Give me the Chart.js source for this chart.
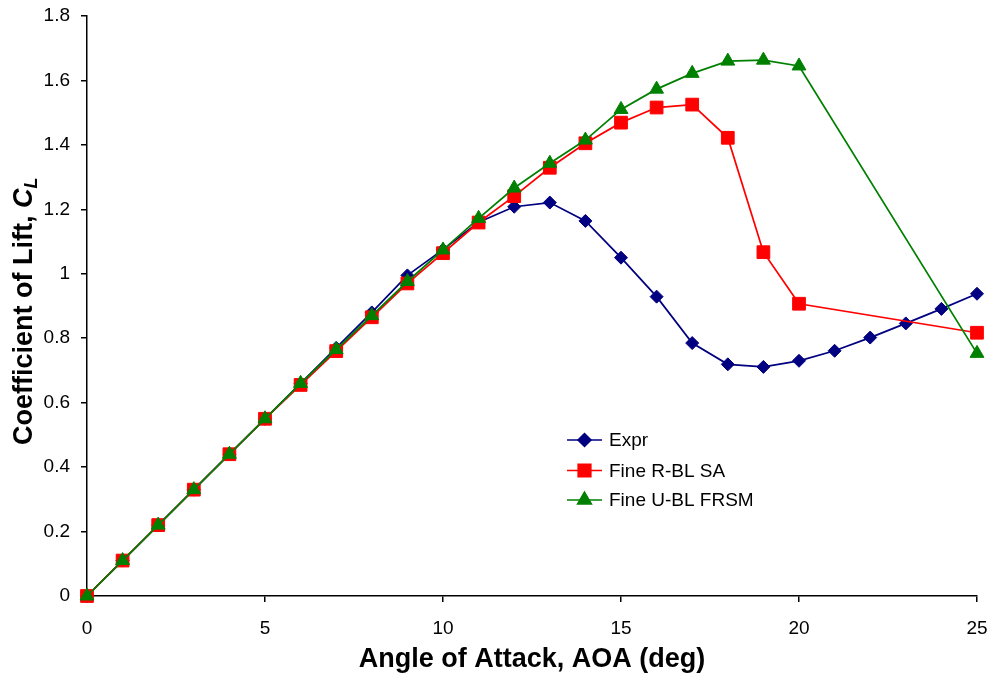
<!DOCTYPE html>
<html>
<head>
<meta charset="utf-8">
<script src="https://cdn.jsdelivr.net/npm/chart.js@4.4.0/dist/chart.umd.min.js"></script>
<style>
html,body{margin:0;padding:0;background:#fff;}
#wrap{width:993px;height:683px;position:relative;}
</style>
</head>
<body>
<div id="wrap"><canvas id="c" width="993" height="683"></canvas></div>
<script>
const aoa = [0,1,2,3,4,5,6,7,8,9,10,11,12,13,14,15,16,17,18,19,20,21,22,23,24,25];
const exprCL = [0,0.11,0.22,0.33,0.44,0.55,0.66,0.77,0.88,0.995,1.075,1.16,1.208,1.221,1.164,1.05,0.929,0.785,0.719,0.711,0.73,0.761,0.802,0.846,0.891,0.938];
const saAOA = [0,1,2,3,4,5,6,7,8,9,10,11,12,13,14,15,16,17,18,19,20,25];
const saCL = [0,0.11,0.22,0.33,0.44,0.55,0.655,0.76,0.865,0.97,1.064,1.159,1.241,1.329,1.405,1.469,1.516,1.525,1.422,1.067,0.907,0.817];
const frsmAOA = [0,1,2,3,4,5,6,7,8,9,10,11,12,13,14,15,16,17,18,19,20,25];
const frsmCL = [0,0.11,0.22,0.33,0.44,0.55,0.66,0.765,0.87,0.976,1.074,1.172,1.266,1.343,1.415,1.51,1.573,1.622,1.66,1.663,1.645,0.753];
const seriesNames = ['Expr','Fine R-BL SA','Fine U-BL FRSM'];
const yTicks = [0,0.2,0.4,0.6,0.8,1,1.2,1.4,1.6,1.8];
const xTicks = [0,5,10,15,20,25];

const colors = ['#000080','#FF0000','#008000'];
const styles = ['rectRot','rect','triangle'];
const radii = [6.5,9,8];
const FONT = '"Liberation Sans", Arial, sans-serif';

function pts(xs, ys){ return xs.map((x,i)=>({x:x,y:ys[i]})); }

const legendPlugin = {
  id:'customLegend',
  afterDraw(chart){
    const ctx = chart.ctx;
    ctx.save();
    const x0 = 567, x1 = 602, tx = 609;
    const ys = [440, 470.5, 500];
    seriesNames.forEach((name,i)=>{
      const y = ys[i];
      ctx.strokeStyle = colors[i];
      ctx.lineWidth = 1.5;
      ctx.beginPath(); ctx.moveTo(x0,y); ctx.lineTo(x1,y); ctx.stroke();
      ctx.fillStyle = colors[i];
      Chart.helpers.drawPoint(ctx, {pointStyle: styles[i], radius: radii[i], borderWidth: 1, rotation: 0}, (x0+x1)/2, y);
      ctx.fill();
      ctx.fillStyle = '#000';
      ctx.font = '19px ' + FONT;
      ctx.textBaseline = 'middle';
      ctx.textAlign = 'left';
      ctx.fillText(name, tx, y+1);
    });
    // y axis title
    ctx.translate(32, 445);
    ctx.rotate(-Math.PI/2);
    ctx.textBaseline = 'alphabetic';
    ctx.textAlign = 'left';
    ctx.fillStyle = '#000';
    ctx.font = 'bold 27px ' + FONT;
    const t1 = 'Coefficient of Lift, ';
    ctx.fillText(t1, 0, 0);
    let w = ctx.measureText(t1).width;
    ctx.font = 'italic bold 27px ' + FONT;
    ctx.fillText('C', w, 0);
    w += ctx.measureText('C').width;
    ctx.font = 'italic bold 18px ' + FONT;
    ctx.fillText('L', w, 5);
    ctx.restore();
  }
};

const datasets = [
  {label:seriesNames[0], data:pts(aoa, exprCL)},
  {label:seriesNames[1], data:pts(saAOA, saCL)},
  {label:seriesNames[2], data:pts(frsmAOA, frsmCL)}
].map((d,i)=>Object.assign(d,{
  borderColor:colors[i], backgroundColor:colors[i],
  pointBackgroundColor:colors[i], pointBorderColor:colors[i],
  pointStyle:styles[i], pointRadius:radii[i], pointHoverRadius:radii[i],
  pointBorderWidth:1, borderWidth:1.75, tension:0, fill:false,
  clip:false,
  order: 2-i
}));

new Chart(document.getElementById('c'), {
  type:'scatter',
  data:{datasets:datasets},
  options:{
    responsive:false, animation:false,
    showLine:true,
    layout:{padding:{left:0,right:16,top:16,bottom:0}},
    plugins:{legend:{display:false}, tooltip:{enabled:false}},
    scales:{
      x:{
        type:'linear', min:0, max:25,
        afterBuildTicks(s){ s.ticks = xTicks.map(v=>({value:v})); },
        afterFit(s){ s.height = 87; s.paddingLeft = 0; s.paddingRight = 0; },
        grid:{display:true, drawOnChartArea:false, drawTicks:true, tickLength:6, color:'#000', lineWidth:1.5},
        border:{display:true, color:'#000', width:1.5},
        ticks:{color:'#000', padding:15, maxRotation:0, font:{family:FONT, size:19}, callback:v=>String(v)},
        title:{display:true, text:'Angle of Attack, AOA (deg)', color:'#000', padding:{top:0,bottom:7}, font:{family:FONT, size:27, weight:'bold'}}
      },
      y:{
        type:'linear', min:0, max:1.8,
        afterBuildTicks(s){ s.ticks = yTicks.map(v=>({value:v})); },
        afterFit(s){ s.width = 87; s.paddingTop = 0; s.paddingBottom = 0; },
        grid:{display:true, drawOnChartArea:false, drawTicks:true, tickLength:6, color:'#000', lineWidth:1.5},
        border:{display:true, color:'#000', width:1.5},
        ticks:{color:'#000', padding:11, font:{family:FONT, size:19}, callback:v=>String(+(+v).toFixed(1))}
      }
    }
  },
  plugins:[legendPlugin]
});
</script>
</body>
</html>
